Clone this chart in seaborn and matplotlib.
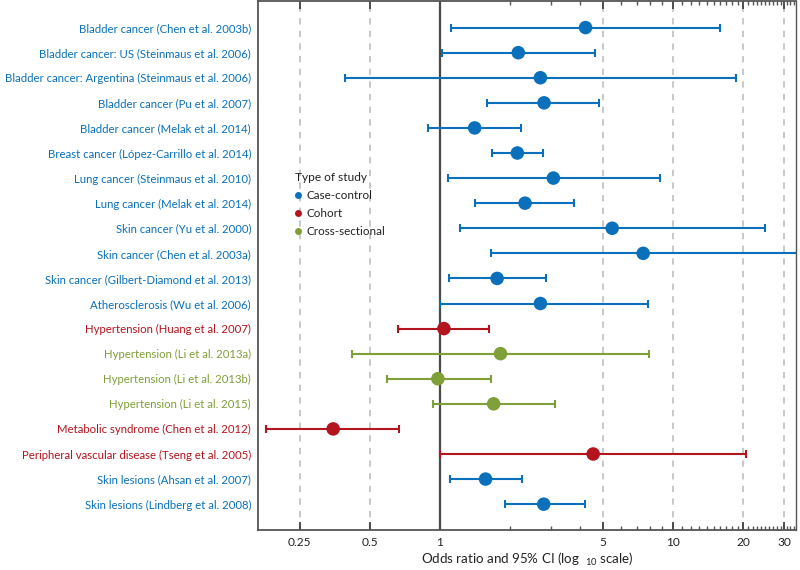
import numpy as np
import pandas as pd
import matplotlib
matplotlib.use("Agg")
import matplotlib.pyplot as plt
import seaborn as sns
from matplotlib.ticker import FixedLocator, NullFormatter
from matplotlib.lines import Line2D

labels = [
    "Bladder cancer (Chen et al. 2003b)",
    "Bladder cancer: US (Steinmaus et al. 2006)",
    "Bladder cancer: Argentina (Steinmaus et al. 2006)",
    "Bladder cancer (Pu et al. 2007)",
    "Bladder cancer (Melak et al. 2014)",
    "Breast cancer (López-Carrillo et al. 2014)",
    "Lung cancer (Steinmaus et al. 2010)",
    "Lung cancer (Melak et al. 2014)",
    "Skin cancer (Yu et al. 2000)",
    "Skin cancer (Chen et al. 2003a)",
    "Skin cancer (Gilbert-Diamond et al. 2013)",
    "Atherosclerosis (Wu et al. 2006)",
    "Hypertension (Huang et al. 2007)",
    "Hypertension (Li et al. 2013a)",
    "Hypertension (Li et al. 2013b)",
    "Hypertension (Li et al. 2015)",
    "Metabolic syndrome (Chen et al. 2012)",
    "Peripheral vascular disease (Tseng et al. 2005)",
    "Skin lesions (Ahsan et al. 2007)",
    "Skin lesions (Lindberg et al. 2008)",
]
study_type = (["Case-control"] * 12 + ["Cohort"] + ["Cross-sectional"] * 3
              + ["Cohort", "Cohort", "Case-control", "Case-control"])
odds_ratio = [4.22, 2.17, 2.70, 2.80, 1.41, 2.15, 3.07, 2.32, 5.49, 7.46,
              1.76, 2.70, 1.04, 1.82, 0.98, 1.70, 0.348, 4.55, 1.57, 2.79]
ci_low = [1.115, 1.02, 0.39, 1.60, 0.89, 1.67, 1.08, 1.42, 1.22, 1.65,
          1.09, 1.00, 0.66, 0.42, 0.59, 0.93, 0.18, 1.00, 1.10, 1.90]
ci_high = [16.0, 4.63, 18.6, 4.80, 2.23, 2.77, 8.8, 3.76, 24.8, 34.0,
           2.84, 7.81, 1.62, 7.87, 1.65, 3.11, 0.667, 20.6, 2.26, 4.19]
type_order = ["Case-control", "Cohort", "Cross-sectional"]
major_ticks = [0.25, 0.5, 1, 5, 10, 20, 30]
major_labels = ["0.25", "0.5", "1", "5", "10", "20", "30"]

palette = {"Case-control": "#0a70bb", "Cohort": "#b3141d", "Cross-sectional": "#7f9f38"}

df = pd.DataFrame({"label": labels, "type": study_type, "OR": odds_ratio,
                   "lo": ci_low, "hi": ci_high})
df["row"] = np.arange(len(df))

sns.set_style("white")
plt.rcParams["font.family"] = ["Lato", "DejaVu Sans"]
plt.rcParams["mathtext.fontset"] = "custom"
plt.rcParams["mathtext.rm"] = "Lato"

fig = plt.figure(figsize=(8, 5.7), dpi=100)
ax = fig.add_axes([258 / 800, 1 - 530 / 570, (796 - 258) / 800, 529 / 570])

ax.set_xscale("log")
ax.set_xlim(0.1655, 33.8)

# grid lines
for v in [0.25, 0.5, 5, 10, 20, 30]:
    ax.axvline(v, color="#c4c4c4", lw=1.3, ls=(0, (3.5, 3.5)), zorder=0)
ax.axvline(1, color="#4a4a4a", lw=1.6, zorder=1)

# error bars
for t in type_order:
    sub = df[df["type"] == t]
    ax.errorbar(sub["OR"], sub["row"],
                xerr=[sub["OR"] - sub["lo"], sub["hi"] - sub["OR"]],
                fmt="none", ecolor=palette[t], elinewidth=1.5,
                capsize=3.2, capthick=1.5, zorder=2)

sns.scatterplot(data=df, x="OR", y="row", hue="type", hue_order=type_order,
                palette=palette, s=95, edgecolor="none", linewidth=0,
                legend=False, ax=ax, zorder=3)

ax.set_ylim(19 + 1.03, -1.06)
ax.set_yticks(df["row"])
ax.set_yticklabels(df["label"])
for tl, t in zip(ax.get_yticklabels(), df["type"]):
    tl.set_color(palette[t])
ax.tick_params(axis="y", length=0, pad=5, labelsize=8.2)

ax.xaxis.set_major_locator(FixedLocator(major_ticks))
ax.set_xticklabels(major_labels)
minor = [m for m in range(2, 34) if m not in (5, 10, 20, 30)]
ax.xaxis.set_minor_locator(FixedLocator(minor))
ax.xaxis.set_minor_formatter(NullFormatter())
ax.tick_params(axis="x", which="major", direction="in", length=6, width=1.2,
               top=True, bottom=True, labelsize=8.6, colors="#333333", pad=5,
               labelcolor="#222222")
ax.tick_params(axis="x", which="minor", direction="in", length=3, width=1.0,
               top=True, bottom=True, colors="#555555")

ax.set_xlabel("Odds ratio and 95% CI (log $_{\\ 10}$ scale)", fontsize=9.6,
              color="#222222", labelpad=2)
ax.set_ylabel("")

for s in ["left", "bottom", "top", "right"]:
    ax.spines[s].set_visible(True)
    ax.spines[s].set_color("#555555")
    ax.spines[s].set_linewidth(1.3)
ax.spines["right"].set_linewidth(1.0)

handles = [Line2D([], [], ls="none", marker="o", markersize=5,
                  color=palette[t], markeredgewidth=0, label=t) for t in type_order]
leg = ax.legend(handles=handles, title="Type of study", loc="upper left",
                bbox_to_anchor=(0.06, 0.685), frameon=False, fontsize=8.4,
                title_fontsize=8.6, alignment="left", handlelength=0.6,
                handletextpad=0.4, labelspacing=0.6, borderaxespad=0)
for txt in leg.get_texts():
    txt.set_color("#222222")
leg.get_title().set_color("#222222")

fig.savefig("out.png", dpi=100)
